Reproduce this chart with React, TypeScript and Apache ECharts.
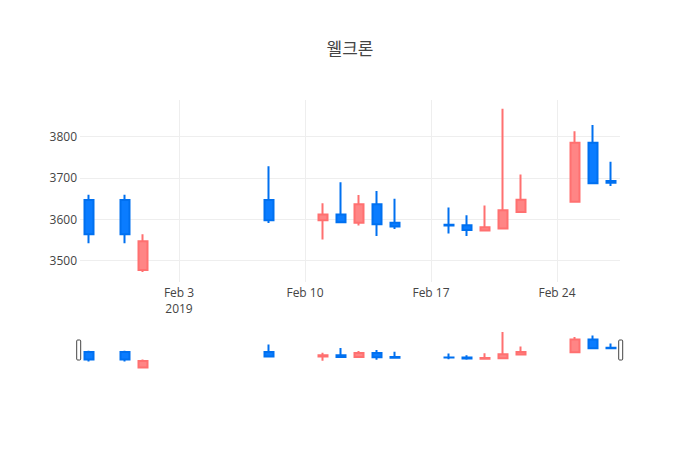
import * as echarts from "echarts"
import { useEffect, useRef } from "react"

// trading days, Jan 29 – Feb 27 2019
const dates = [
    "2019-01-29", "2019-01-31", "2019-02-01", "2019-02-08", "2019-02-11",
    "2019-02-12", "2019-02-13", "2019-02-14", "2019-02-15", "2019-02-18",
    "2019-02-19", "2019-02-20", "2019-02-21", "2019-02-22", "2019-02-25",
    "2019-02-26", "2019-02-27",
]
const opens = [3646, 3646, 3476, 3646, 3597, 3611, 3591, 3636, 3591, 3586, 3585, 3572, 3577, 3617, 3642, 3785, 3692]
const closes = [3563, 3563, 3546, 3597, 3611, 3592, 3636, 3587, 3582, 3584, 3573, 3580, 3621, 3647, 3785, 3687, 3688]
const lows = [3541, 3541, 3471, 3590, 3550, 3590, 3584, 3559, 3576, 3565, 3559, 3572, 3577, 3617, 3642, 3685, 3680]
const highs = [3659, 3659, 3563, 3728, 3638, 3689, 3658, 3668, 3649, 3628, 3609, 3633, 3868, 3708, 3813, 3828, 3739]

const xTicks = ["2019-02-03", "2019-02-10", "2019-02-17", "2019-02-24"]
const yTicks = [3500, 3600, 3700, 3800]
const MONTHS = ["Jan", "Feb", "Mar", "Apr", "May", "Jun", "Jul", "Aug", "Sep", "Oct", "Nov", "Dec"]

const day = (s: string) => {
    const [y, m, d] = s.split("-").map(Number)
    return new Date(y, m - 1, d).getTime()
}
const HALF_DAY = 12 * 3600 * 1000

const UP_FILL = "#ff8585"
const UP_LINE = "#ff7070"
const DOWN_FILL = "#0a7cff"
const DOWN_LINE = "#0070f0"
const FONT = "'Open Sans', 'Noto Sans CJK KR', sans-serif"

const App: React.FC = () => {
    const ref = useRef<HTMLDivElement | null>(null)

    useEffect(() => {
        if (!ref.current) return
        const chart = echarts.init(ref.current, null, { renderer: "svg" })

        const candles = dates.map((d, i) => [day(d), opens[i], closes[i], lows[i], highs[i]])
        const xMin = day(dates[0]) - HALF_DAY
        const xMax = day(dates[dates.length - 1]) + HALF_DAY
        const yMin = 3447
        const yMax = 3889
        const itemStyle = {
            color: UP_FILL,
            color0: DOWN_FILL,
            borderColor: UP_LINE,
            borderColor0: DOWN_LINE,
            borderWidth: 2,
        }

        chart.setOption({
            animation: false,
            textStyle: { fontFamily: FONT },
            title: {
                text: "웰크론",
                left: "center",
                top: 35,
                textStyle: { fontSize: 17, fontWeight: "normal", color: "#444", fontFamily: FONT },
            },
            grid: [
                { left: 80, right: 80, top: 100, height: 182 },
                { left: 80, right: 80, top: 330, height: 40 },
            ],
            xAxis: [
                {
                    type: "value",
                    gridIndex: 0,
                    min: xMin,
                    max: xMax,
                    axisLine: { show: false },
                    axisTick: { show: false, customValues: xTicks.map(day) },
                    splitLine: { show: true, lineStyle: { color: "#eee", width: 1 } },
                    axisLabel: {
                        customValues: xTicks.map(day),
                        color: "#444",
                        fontSize: 12,
                        fontFamily: FONT,
                        margin: 2,
                        formatter: (v: number) => {
                            const d = new Date(v)
                            const s = `${MONTHS[d.getMonth()]} ${d.getDate()}`
                            return d.getDate() === 3 ? `{a|${s}}\n{a|${d.getFullYear()}}` : `{a|${s}}`
                        },
                        rich: { a: { fontSize: 12, lineHeight: 16, color: "#444", fontFamily: FONT } },
                    },
                },
                {
                    type: "value",
                    gridIndex: 1,
                    min: xMin,
                    max: xMax,
                    show: false,
                },
            ],
            yAxis: [
                {
                    type: "value",
                    gridIndex: 0,
                    min: yMin,
                    max: yMax,
                    axisLine: { show: false },
                    axisTick: { show: false, customValues: yTicks },
                    splitLine: { show: true, lineStyle: { color: "#eee", width: 1 } },
                    axisLabel: {
                        customValues: yTicks,
                        color: "#444",
                        fontSize: 12,
                        fontFamily: FONT,
                        margin: 3,
                        formatter: (v: number) => String(v),
                    },
                },
                {
                    type: "value",
                    gridIndex: 1,
                    min: yMin,
                    max: yMax,
                    show: false,
                },
            ],
            dataZoom: [
                {
                    type: "slider",
                    xAxisIndex: 0,
                    filterMode: "none",
                    start: 0,
                    end: 100,
                    left: 77,
                    right: 79,
                    top: 330,
                    height: 40,
                    backgroundColor: "transparent",
                    borderColor: "transparent",
                    fillerColor: "transparent",
                    showDataShadow: false,
                    showDetail: false,
                    brushSelect: false,
                    moveHandleSize: 0,
                    moveHandleStyle: { opacity: 0 },
                    handleIcon:
                        "path://M1,0 h2 a1,1 0 0 1 1,1 v18 a1,1 0 0 1 -1,1 h-2 a1,1 0 0 1 -1,-1 v-18 a1,1 0 0 1 1,-1 z",
                    handleSize: "50%",
                    handleStyle: { color: "#fff", borderColor: "#444", borderWidth: 1 },
                    emphasis: {
                        handleStyle: { color: "#fff", borderColor: "#444", borderWidth: 1 },
                        moveHandleStyle: { opacity: 0 },
                    },
                },
            ],
            series: [
                {
                    type: "candlestick",
                    xAxisIndex: 0,
                    yAxisIndex: 0,
                    barWidth: 10,
                    itemStyle,
                    data: candles,
                },
                {
                    type: "candlestick",
                    xAxisIndex: 1,
                    yAxisIndex: 1,
                    barWidth: 10,
                    itemStyle,
                    silent: true,
                    data: candles,
                },
            ],
        })

        return () => {
            chart.dispose()
        }
    }, [])

    return <div ref={ref} style={{ width: 700, height: 450, margin: -8 }}></div>
}

export default App
